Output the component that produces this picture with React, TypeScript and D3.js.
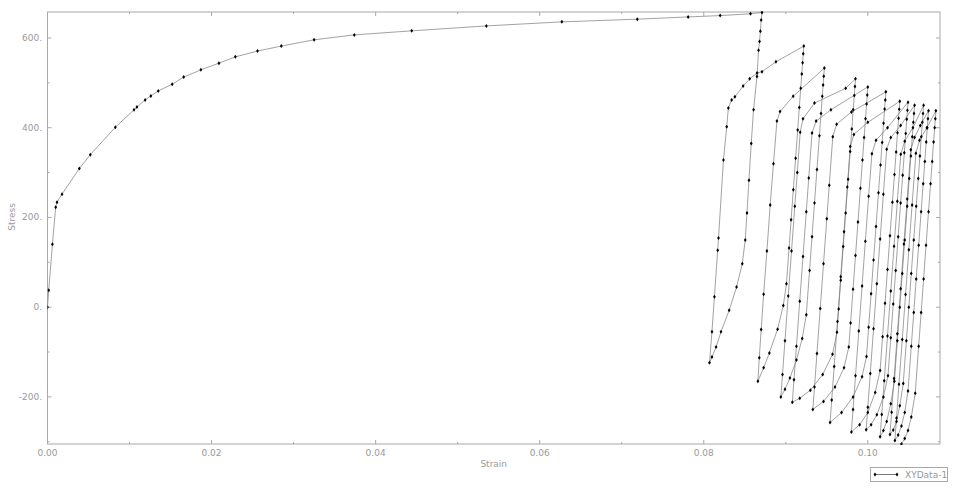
import React from "react";
import * as d3 from "d3";

type Pt = [number, number];

// Monotonic loading branch (strain, stress)
const monotonicBranch: Pt[] = [
  [0, 0], [0.00015, 38], [0.0006, 140], [0.001, 223], [0.00116, 234], [0.00177, 252],
  [0.00388, 309], [0.00522, 340], [0.00827, 401], [0.01055, 440], [0.0109, 446],
  [0.0119, 462], [0.0126, 471], [0.0135, 482], [0.0152, 497], [0.0166, 513],
  [0.0187, 529], [0.0209, 544], [0.0229, 558], [0.0256, 571], [0.0285, 582],
  [0.0325, 596], [0.0374, 607], [0.0444, 616], [0.0535, 627], [0.0627, 636],
  [0.0719, 642], [0.0781, 647], [0.082, 650], [0.0857, 654], [0.0871, 657],
];

// Unloading branches (peak -> valley)
const unloadBranches: Pt[][] = [
  [[0.0871, 657], [0.087, 640], [0.0869, 615], [0.0868, 592], [0.08668, 573], [0.08649, 514], [0.08607, 440], [0.08579, 365], [0.08551, 283], [0.08527, 210], [0.08506, 150], [0.0847, 97], [0.084, 45], [0.0831, -7], [0.0821, -55], [0.0815, -89], [0.081, -111], [0.0807, -124]],
  [[0.0922, 582], [0.09213, 565], [0.09205, 545], [0.09195, 520], [0.09182, 488], [0.09165, 445], [0.09145, 395], [0.0912, 332], [0.09092, 262], [0.09065, 195], [0.0904, 132], [0.09008, 52], [0.0897, 4], [0.089, -49], [0.088, -102], [0.0873, -135], [0.0866, -165]],
  [[0.0947, 533], [0.09463, 515], [0.09455, 495], [0.09445, 470], [0.0943, 432], [0.0941, 382], [0.0938, 307], [0.0935, 232], [0.0932, 157], [0.0929, 82], [0.0925, -17], [0.092, -70], [0.0913, -118], [0.0905, -158], [0.0899, -183], [0.0894, -200]],
  [[0.0985, 509], [0.09843, 492], [0.09835, 472], [0.09822, 440], [0.09805, 397], [0.09785, 347], [0.0976, 285], [0.0973, 210], [0.097, 135], [0.0967, 60], [0.09645, -4], [0.09624, -56], [0.0957, -105], [0.0945, -150], [0.093, -185], [0.0917, -203], [0.0908, -212]],
  [[0.1, 491], [0.09993, 473], [0.09985, 453], [0.09972, 420], [0.09955, 378], [0.09935, 328], [0.0991, 265], [0.0988, 190], [0.0985, 115], [0.0982, 40], [0.0979, -35], [0.09768, -89], [0.0971, -135], [0.096, -178], [0.0946, -210], [0.0933, -228]],
  [[0.1022, 480], [0.10213, 462], [0.10205, 442], [0.10192, 410], [0.10175, 367], [0.10155, 317], [0.1013, 255], [0.101, 180], [0.1007, 105], [0.1004, 30], [0.1001, -45], [0.09984, -110], [0.0993, -155], [0.0982, -200], [0.0968, -235], [0.0954, -257]],
  [[0.1039, 459], [0.10383, 441], [0.10375, 421], [0.10362, 389], [0.10345, 346], [0.10325, 296], [0.103, 234], [0.1027, 159], [0.1024, 84], [0.1021, 9], [0.1018, -66], [0.1015, -141], [0.1009, -190], [0.1, -235], [0.099, -262], [0.098, -278]],
  [[0.1049, 457], [0.10483, 439], [0.10475, 419], [0.10462, 387], [0.10445, 344], [0.10425, 294], [0.104, 232], [0.1037, 157], [0.1034, 82], [0.1031, 7], [0.1028, -68], [0.10246, -153], [0.1019, -200], [0.1011, -240], [0.1004, -262], [0.0998, -273]],
  [[0.1057, 450], [0.10563, 432], [0.10555, 412], [0.10542, 380], [0.10525, 337], [0.10505, 287], [0.1048, 225], [0.1045, 150], [0.1042, 75], [0.1039, 0], [0.1036, -75], [0.10324, -165], [0.1028, -215], [0.1023, -255], [0.1019, -275], [0.1015, -289]],
  [[0.1068, 450], [0.10673, 432], [0.10665, 412], [0.10652, 380], [0.10635, 337], [0.10615, 287], [0.1059, 225], [0.1056, 150], [0.1053, 75], [0.105, 0], [0.1047, -75], [0.10432, -170], [0.1039, -220], [0.1035, -255], [0.1031, -274], [0.1027, -284]],
  [[0.1074, 438], [0.10733, 420], [0.10725, 400], [0.10712, 368], [0.10695, 325], [0.10675, 275], [0.1065, 213], [0.1062, 138], [0.1059, 63], [0.1056, -12], [0.1053, -87], [0.1049, -187], [0.1045, -235], [0.1041, -265], [0.1037, -285], [0.1033, -297]],
  [[0.1083, 438], [0.10823, 420], [0.10815, 400], [0.10802, 368], [0.10785, 325], [0.10765, 275], [0.1074, 213], [0.1071, 138], [0.1068, 63], [0.1065, -12], [0.1062, -87], [0.10578, -192], [0.1053, -245], [0.1049, -275], [0.1045, -293], [0.1041, -305]],
];

// Reloading branches (valley -> next peak)
const reloadBranches: Pt[][] = [
  [[0.0807, -124], [0.081, -55], [0.0813, 23], [0.0817, 127], [0.0818, 154], [0.0824, 328], [0.0828, 402], [0.083, 444], [0.0834, 462], [0.0838, 469], [0.0848, 493], [0.0856, 509], [0.0865, 522], [0.0871, 525], [0.0888, 547], [0.0922, 582]],
  [[0.0866, -165], [0.08677, -113], [0.087, -50], [0.0873, 29], [0.0877, 125], [0.0881, 228], [0.0885, 320], [0.08892, 415], [0.0893, 436], [0.0909, 470], [0.0947, 533]],
  [[0.0894, -200], [0.0896, -150], [0.0899, -75], [0.0903, 25], [0.0907, 125], [0.0911, 225], [0.0914, 300], [0.09176, 390], [0.0921, 420], [0.0935, 455], [0.0973, 488], [0.0985, 509]],
  [[0.0908, -212], [0.091, -162], [0.0913, -87], [0.0917, 13], [0.0921, 113], [0.0925, 213], [0.0928, 288], [0.0932, 388], [0.0937, 415], [0.0955, 440], [0.1, 491]],
  [[0.0933, -228], [0.0935, -178], [0.0938, -103], [0.0942, -3], [0.0946, 97], [0.095, 197], [0.0953, 272], [0.09573, 380], [0.0962, 408], [0.098, 435], [0.1022, 480]],
  [[0.0954, -257], [0.0956, -207], [0.0959, -132], [0.0963, -32], [0.0967, 68], [0.0971, 168], [0.0975, 268], [0.09786, 358], [0.0983, 385], [0.1, 412], [0.1039, 459]],
  [[0.098, -278], [0.0982, -228], [0.0985, -153], [0.0989, -53], [0.0993, 47], [0.0997, 147], [0.1001, 247], [0.1005, 342], [0.101, 372], [0.1024, 400], [0.1049, 457]],
  [[0.0998, -273], [0.1, -223], [0.1003, -148], [0.1007, -48], [0.1011, 52], [0.1015, 152], [0.1019, 252], [0.1023, 352], [0.1028, 378], [0.104, 405], [0.1057, 450]],
  [[0.1015, -289], [0.1017, -239], [0.102, -164], [0.1024, -64], [0.1028, 36], [0.1032, 136], [0.1036, 236], [0.10402, 341], [0.1045, 370], [0.1055, 400], [0.1068, 450]],
  [[0.1027, -284], [0.1029, -234], [0.1032, -159], [0.1036, -59], [0.104, 41], [0.1044, 141], [0.1048, 241], [0.10524, 351], [0.1057, 378], [0.1064, 405], [0.1074, 438]],
  [[0.1033, -297], [0.1035, -247], [0.1038, -172], [0.1042, -72], [0.1046, 28], [0.105, 128], [0.1054, 228], [0.10586, 343], [0.1063, 372], [0.1072, 400], [0.1083, 438]],
];

const xTicks = [0, 0.02, 0.04, 0.06, 0.08, 0.1];
const xTickLabels = ["0.00", "0.02", "0.04", "0.06", "0.08", "0.10"];
const xMinorTicks = [0.01, 0.03, 0.05, 0.07, 0.09];
const yTicks = [-200, 0, 200, 400, 600];
const yTickLabels = ["-200.", "0.", "200.", "400.", "600."];
const yMinorTicks = [-300, -100, 100, 300, 500];
const seriesName = "XYData-1";
const xTitle = "Strain";
const yTitle = "Stress";

const W = 960;
const H = 490;
const L = 47.5;
const R = 940;
const T = 12;
const B = 444;

export default function App() {
  const x = d3.scaleLinear().domain([0, 0.1088]).range([L, R]);
  const y = d3.scaleLinear().domain([-305, 658]).range([B, T]);

  const all: Pt[] = [...monotonicBranch];
  for (let i = 0; i < unloadBranches.length; i++) {
    all.push(...unloadBranches[i].slice(1));
    if (i < reloadBranches.length) all.push(...reloadBranches[i].slice(1));
  }

  const line = d3
    .line<Pt>()
    .x((d) => x(d[0]))
    .y((d) => y(d[1]));

  const marker = "M0,-2L1.4,0L0,2L-1.4,0Z";
  const axisColor = "#a8a8a8";
  const textColor = "#999";
  const font = "'DejaVu Sans', Verdana, sans-serif";

  return (
    <svg
      width={W}
      height={H}
      style={{ position: "absolute", left: 0, top: 0, background: "#fff" }}
    >
      <defs>
        <clipPath id="plotClip">
          <rect x={L} y={T - 1} width={R - L} height={B - T + 2} />
        </clipPath>
      </defs>
      {/* frame */}
      <rect x={L} y={T} width={R - L} height={B - T} fill="none" stroke={axisColor} strokeWidth={1} />
      {/* bottom & top ticks */}
      {xTicks.map((t, i) => (
        <g key={"xt" + i}>
          <line x1={x(t)} x2={x(t)} y1={B} y2={B - 4} stroke={axisColor} />
          <line x1={x(t)} x2={x(t)} y1={T} y2={T + 4} stroke={axisColor} />
          <text x={x(t)} y={456} textAnchor="middle" fontSize={9} fill={textColor} fontFamily={font}>
            {xTickLabels[i]}
          </text>
        </g>
      ))}
      {xMinorTicks.map((t, i) => (
        <g key={"xm" + i}>
          <line x1={x(t)} x2={x(t)} y1={B} y2={B - 2} stroke={axisColor} />
          <line x1={x(t)} x2={x(t)} y1={T} y2={T + 2} stroke={axisColor} />
        </g>
      ))}
      {yTicks.map((t, i) => (
        <g key={"yt" + i}>
          <line x1={L} x2={L + 4} y1={y(t)} y2={y(t)} stroke={axisColor} />
          <line x1={R} x2={R - 4} y1={y(t)} y2={y(t)} stroke={axisColor} />
          <text x={42} y={y(t) + 3} textAnchor="end" fontSize={9} fill={textColor} fontFamily={font}>
            {yTickLabels[i]}
          </text>
        </g>
      ))}
      {yMinorTicks.map((t, i) => (
        <g key={"ym" + i}>
          <line x1={L} x2={L + 2} y1={y(t)} y2={y(t)} stroke={axisColor} />
          <line x1={R} x2={R - 2} y1={y(t)} y2={y(t)} stroke={axisColor} />
        </g>
      ))}
      {/* axis titles */}
      <text x={(L + R) / 2} y={467} textAnchor="middle" fontSize={9} fill={textColor} fontFamily={font}>
        {xTitle}
      </text>
      <text
        transform={`translate(15,217) rotate(-90)`}
        textAnchor="middle"
        fontSize={9}
        fill={textColor}
        fontFamily={font}
      >
        {yTitle}
      </text>
      {/* data */}
      <g clipPath="url(#plotClip)">
        <path d={line(all) || ""} fill="none" stroke="#7a7a7a" strokeWidth={0.7} />
        {all.map((d, i) => (
          <path key={i} d={marker} transform={`translate(${x(d[0])},${y(d[1])})`} fill="#000" />
        ))}
      </g>
      {/* legend */}
      <rect x={870.5} y={467.5} width={77} height={14} fill="#fff" stroke={axisColor} />
      <line x1={875} x2={897} y1={474.5} y2={474.5} stroke="#555" strokeWidth={0.8} />
      <path d={marker} transform="translate(875,474.5)" fill="#000" />
      <path d={marker} transform="translate(897,474.5)" fill="#000" />
      <text x={905} y={478} fontSize={9} fill={textColor} fontFamily={font}>
        {seriesName}
      </text>
    </svg>
  );
}
